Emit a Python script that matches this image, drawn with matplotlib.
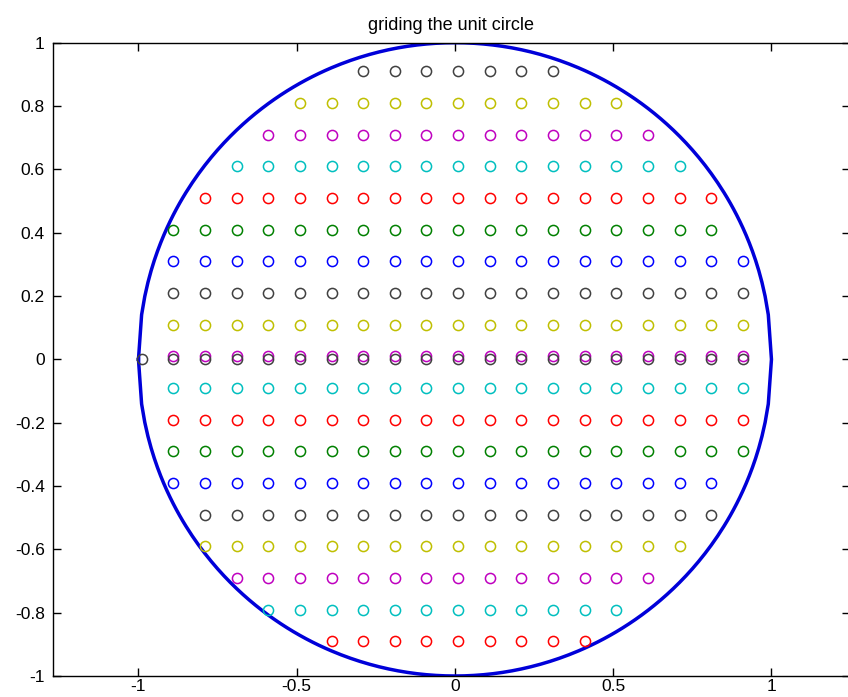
import numpy as np
import matplotlib
matplotlib.use('Agg')
import matplotlib.pyplot as plt

# grid columns (x) and rows (y)
x_cols = [-0.99, -0.89, -0.79, -0.69, -0.59, -0.49, -0.39, -0.29, -0.19, -0.09,
          0.01, 0.11, 0.21, 0.31, 0.41, 0.51, 0.61, 0.71, 0.81, 0.91]
row_y = [-0.89, -0.79, -0.69, -0.59, -0.49, -0.39, -0.29, -0.19, -0.09, 0.01,
         0.11, 0.21, 0.31, 0.41, 0.51, 0.61, 0.71, 0.81, 0.91]
row_first = [-0.39, -0.59, -0.69, -0.79, -0.79, -0.89, -0.89, -0.89, -0.89, -0.89,
             -0.89, -0.89, -0.89, -0.89, -0.79, -0.69, -0.59, -0.49, -0.29]
row_last = [0.41, 0.51, 0.61, 0.71, 0.81, 0.81, 0.91, 0.91, 0.91, 0.91,
            0.91, 0.91, 0.91, 0.81, 0.81, 0.71, 0.61, 0.51, 0.31]
zero_row_y = 0.0
zero_row_first, zero_row_last = -0.99, 0.91

xticks = [-1, -0.5, 0, 0.5, 1]
xtick_labels = ['-1', '-0.5', '0', '0.5', '1']
yticks = [-1, -0.8, -0.6, -0.4, -0.2, 0, 0.2, 0.4, 0.6, 0.8, 1]
ytick_labels = ['-1', '-0.8', '-0.6', '-0.4', '-0.2', '0', '0.2', '0.4', '0.6', '0.8', '1']

# matlab default color order
order = [(0, 0, 1), (0, 0.5, 0), (1, 0, 0), (0, 0.75, 0.75),
         (0.75, 0, 0.75), (0.75, 0.75, 0), (0.25, 0.25, 0.25)]

plt.rcParams['font.family'] = ['Liberation Sans', 'DejaVu Sans']
plt.rcParams['axes.unicode_minus'] = False

fig = plt.figure(figsize=(8.48, 6.97), dpi=100)
ax = fig.add_axes([53/848, 21/697, 797/848, 633.3/697])

# unit circle, upper and lower halves
cx = np.linspace(-1, 1, 201)
cy = np.sqrt(np.clip(1 - cx**2, 0, None))
ax.plot(np.r_[cx, cx[::-1]], np.r_[cy, -cy[::-1]], color=(0, 0, 0.85), lw=2.5)

for i, y in enumerate(row_y):
    xs = [x for x in x_cols if row_first[i] - 1e-9 <= x <= row_last[i] + 1e-9]
    ax.plot(xs, [y]*len(xs), 'o', mfc='none', mec=order[(2 + i) % 7], ms=7.3, mew=1.1)

xs = [x for x in x_cols if zero_row_first - 1e-9 <= x <= zero_row_last + 1e-9]
ax.plot(xs, [zero_row_y]*len(xs), 'o', mfc='none', mec=order[6], ms=7.3, mew=1.1)

ax.set_xlim(-1.27, -1.27 + 797/316.5)
ax.set_ylim(-1, 1)
ax.set_xticks(xticks)
ax.set_xticklabels(xtick_labels)
ax.set_yticks(yticks)
ax.set_yticklabels(ytick_labels)
ax.tick_params(direction='in', length=6, width=1, top=True, right=True,
               labelsize=12.5)
ax.tick_params(axis='x', pad=2.5)
ax.tick_params(axis='y', pad=6)
for s in ax.spines.values():
    s.set_linewidth(1.0)
ax.set_title('griding the unit circle', fontsize=13, pad=9)

plt.savefig('out.png', dpi=100)
